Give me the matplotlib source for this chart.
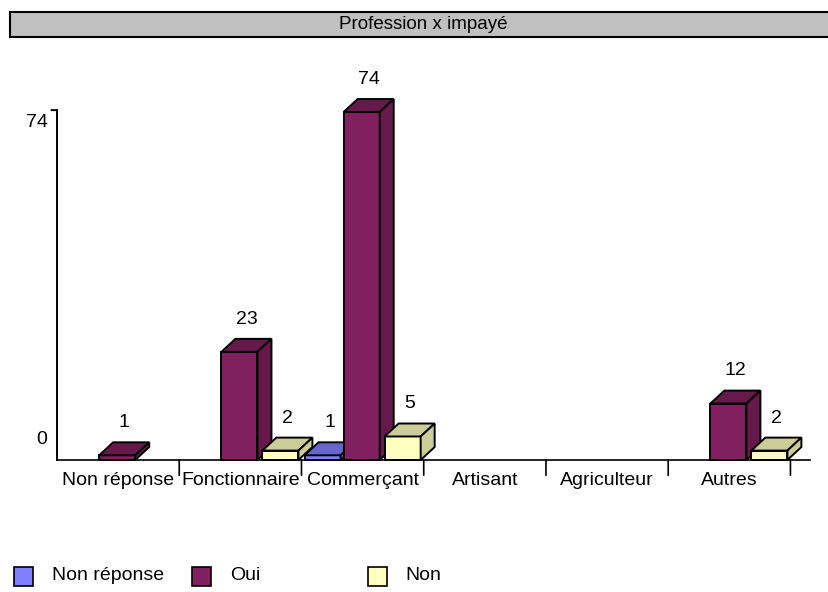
import matplotlib.pyplot as plt
from matplotlib.patches import Rectangle, Polygon

plt.rcParams['font.family'] = ['Liberation Sans', 'DejaVu Sans']

categories = ["Non réponse", "Fonctionnaire", "Commerçant", "Artisant", "Agriculteur", "Autres"]
non_reponse = [0, 0, 1, 0, 0, 0]
oui = [1, 23, 74, 0, 0, 12]
non = [0, 2, 5, 0, 0, 2]

series = [
    ("Non réponse", non_reponse, "#8080FF", "#6666CC"),
    ("Oui", oui, "#80205F", "#661A4C"),
    ("Non", non, "#FFFFC0", "#CCCC99"),
]
offsets = [0.025, 0.345, 0.68]
width = 0.295
dx, dy = 0.1145, 2.76   # depth of the 3D faces, in data units
ymax = 74
fs = 14

W, H = 829, 592
fig = plt.figure(figsize=(W / 100, H / 100), dpi=100)
ax = fig.add_axes([57 / W, 132 / H, 753 / W, (80 * 348 / 74) / H])
ax.set_xlim(0, 6.16)
ax.set_ylim(0, 80)
ax.axis('off')

# title band
fig.add_artist(Rectangle((10 / W, 1 - 37 / H), 1, 25 / H, transform=fig.transFigure,
                         facecolor="#C0C0C0", edgecolor="black", linewidth=1.5))
fig.text(423 / W, 1 - 24.5 / H, "Profession x impayé", ha="center", va="center", fontsize=fs - 0.5)

# axes lines
ax.plot([0, 0], [0, ymax + 0.4], color="black", lw=1.4, clip_on=False)
ax.annotate("", xy=(0, ymax + 0.4), xytext=(-4, 0), textcoords="offset points",
            arrowprops=dict(arrowstyle="-", color="black", lw=1.4, shrinkA=0, shrinkB=0))
ax.plot([0, 6.16], [0, 0], color="black", lw=1.2, clip_on=False)
for k in range(1, len(categories) + 1):
    ax.annotate("", xy=(k, 0), xytext=(0, -11), textcoords="offset points",
                arrowprops=dict(arrowstyle="-", color="black", lw=1.2, shrinkA=0, shrinkB=0))

ax.annotate(str(ymax), xy=(0, ymax), xytext=(-6.5, -7.2), textcoords="offset points",
            ha="right", va="center", fontsize=fs)
ax.annotate("0", xy=(0, 0), xytext=(-7.2, 14.4), textcoords="offset points",
            ha="right", va="center", fontsize=fs)

for i, cat in enumerate(categories):
    ax.annotate(cat, xy=(i + 0.5, 0), xytext=(0, -15), textcoords="offset points",
                ha="center", va="center", fontsize=fs)

# bars, drawn left to right so each one covers its neighbour's depth faces
for i in range(len(categories)):
    for (name, vals, front, shade), off in zip(series, offsets):
        v = vals[i]
        if v == 0:
            continue
        x = i + off
        ax.add_patch(Rectangle((x, 0), width, v, facecolor=front, edgecolor="black",
                               linewidth=1.4, clip_on=False))
        ax.add_patch(Polygon([(x, v), (x + dx, v + dy), (x + width + dx, v + dy), (x + width, v)],
                             closed=True, facecolor=shade, edgecolor="black", linewidth=1.4,
                             clip_on=False))
        ax.add_patch(Polygon([(x + width, 0), (x + width + dx, dy), (x + width + dx, v + dy),
                              (x + width, v)], closed=True, facecolor=shade, edgecolor="black",
                             linewidth=1.4, clip_on=False))
        ax.annotate(str(v), xy=(x + width / 2 + dx / 2, v + dy), xytext=(0, 8),
                    textcoords="offset points", ha="center", va="bottom", fontsize=fs)

# legend
legend_x = [(14, 52), (192, 230), (368, 405)]
for (name, vals, front, shade), (sx, tx) in zip(series, legend_x):
    fig.add_artist(Rectangle((sx / W, 1 - 586 / H), 19 / W, 19 / H, transform=fig.transFigure,
                             facecolor=front, edgecolor="black", linewidth=1.2))
    fig.text(tx / W, 1 - 576 / H, name, ha="left", va="center", fontsize=fs)

fig.savefig("out.png", dpi=100)
